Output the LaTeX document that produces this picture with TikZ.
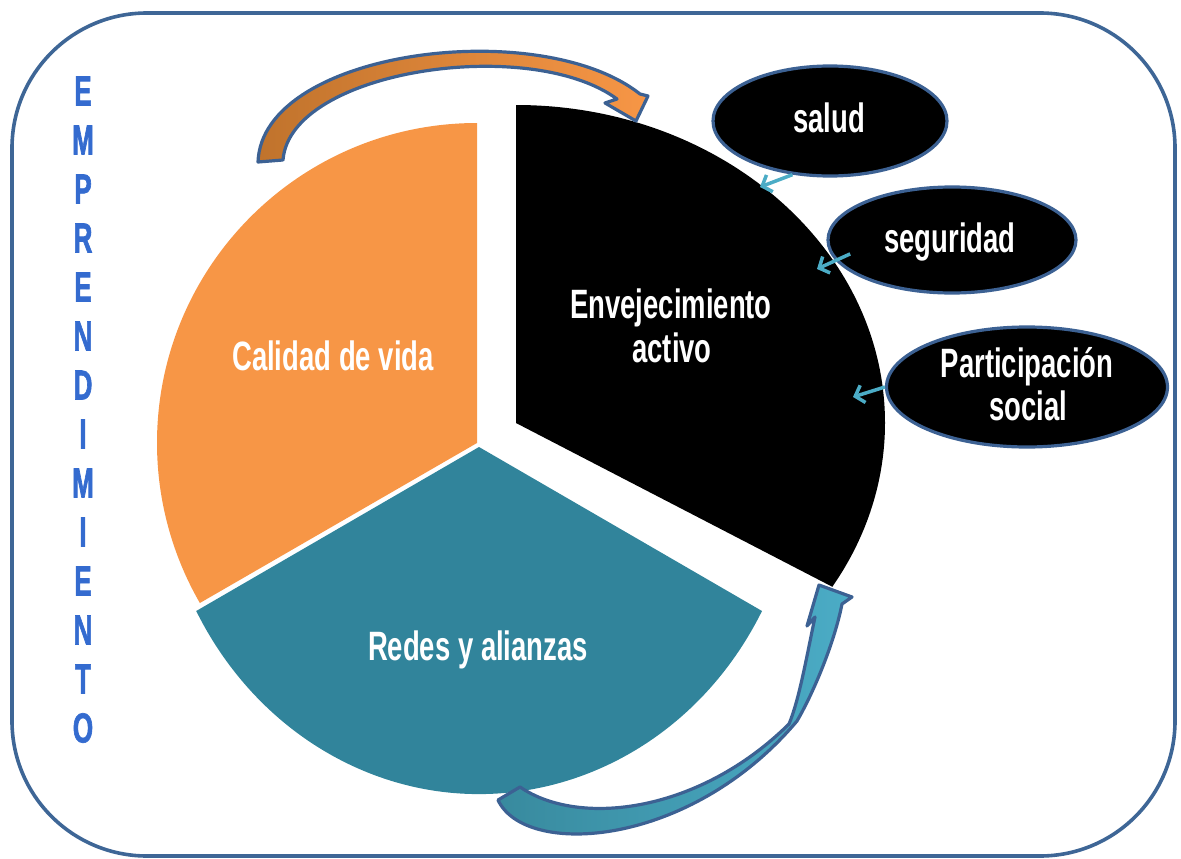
\documentclass[tikz,border=0pt]{standalone}
\usepackage{fontspec}
\setmainfont{Liberation Sans}
\newfontfamily\agency[FakeStretch=0.67]{Liberation Sans}
\newfontfamily\vfont[FakeStretch=0.62,FakeBold=1.5]{Liberation Sans}
\usetikzlibrary{shapes.geometric,arrows.meta}
\definecolor{pieorange}{HTML}{F79646}
\definecolor{pieteal}{HTML}{31849B}
\definecolor{edgeblue}{HTML}{3C6193}
\definecolor{frameblue}{HTML}{3E6696}
\definecolor{lightblue}{HTML}{4BACC6}
\definecolor{darkorange}{HTML}{C0732C}
\definecolor{tealdark}{HTML}{388A9E}
\definecolor{letterblue}{HTML}{346BCF}
\begin{document}
\begin{tikzpicture}[x=1pt,y=-1pt,
  lbl/.style={text=white,font=\agency\bfseries\fontsize{41}{44}\selectfont,inner sep=0pt,anchor=base},
  bubble/.style={ellipse,fill=black,draw=edgeblue,line width=3.2pt,inner sep=0pt},
  pointer/.style={draw=lightblue,line width=3.5pt,-{Straight Barb[length=8pt,width=18pt]}},
  bigarrow/.style={draw=edgeblue,line width=3.2pt,line join=round},
  vletter/.style={text=letterblue,font=\vfont\bfseries\fontsize{42}{42}\selectfont,inner sep=0pt}
]
\useasboundingbox (0,0) rectangle (1181,859);
\draw[frameblue,line width=3.6pt,rounded corners=135pt] (12,13) rectangle (1175,856);

% pie slices
\fill[pieorange] (477,443) -- (477,123) arc[start angle=-90,end angle=-210,radius=320] -- cycle;
\fill[black] (516,423) -- (516,105) arc[start angle=-90,end angle=31,x radius=369,y radius=318] -- cycle;
\fill[pieteal] (479,447) -- (762,611) arc[start angle=28.2,end angle=151.8,x radius=321,y radius=347] -- cycle;

% curved block arrows
\path[bigarrow,left color=darkorange,right color=pieorange]
  (258,162) .. controls (262,50) and (540,15) .. (640,94) -- (648,96) -- (636,121) -- (605,103) -- (617,99)
  .. controls (530,35) and (290,70) .. (283,160) -- cycle;
\path[bigarrow,left color=tealdark,right color=lightblue]
  (498,800) .. controls (525,858) and (690,848) .. (797,721)
  .. controls (815,690) and (835,640) .. (842,604) -- (852,597) -- (819,585) -- (807,626) -- (815,617)
  .. controls (806,660) and (799,700) .. (789,724)
  .. controls (700,812) and (580,828) .. (520,787) -- cycle;

% bubbles
\node[bubble,minimum width=234pt,minimum height=110pt] (salud) at (830,121) {};
\node[bubble,minimum width=248pt,minimum height=106pt] (seg) at (952,240) {};
\node[bubble,minimum width=281pt,minimum height=120pt] (part) at (1027,387) {};

\coordinate (p1) at (760,187);
\coordinate (p2) at (817,269);
\coordinate (p3) at (853,397);
\draw[pointer] (salud.235) -- (p1);
\draw[pointer,shorten <=-16pt] (seg.190) -- (p2);
\draw[pointer] (part.180) -- (p3);

% labels
\node[lbl] (cal) at (333,370) {Calidad de vida};
\node[lbl] (env) at (671,318) {Envejecimiento};
\node[lbl] (act) at (672,362) {activo};
\node[lbl] (red) at (478,660) {Redes y alianzas};
\node[lbl] (tsal) at (829,132) {salud};
\node[lbl] (tseg) at (950,252) {seguridad};
\node[lbl] (tpar) at (1027,377) {Participación};
\node[lbl] (tsoc) at (1028,420) {social};

% vertical word
\foreach \c [count=\i] in {E,M,P,R,E,N,D,I,M,I,E,N,T,O}
  \node[vletter] (L\i) at (83,{91+49*(\i-1)}) {\c};
\end{tikzpicture}
\end{document}
